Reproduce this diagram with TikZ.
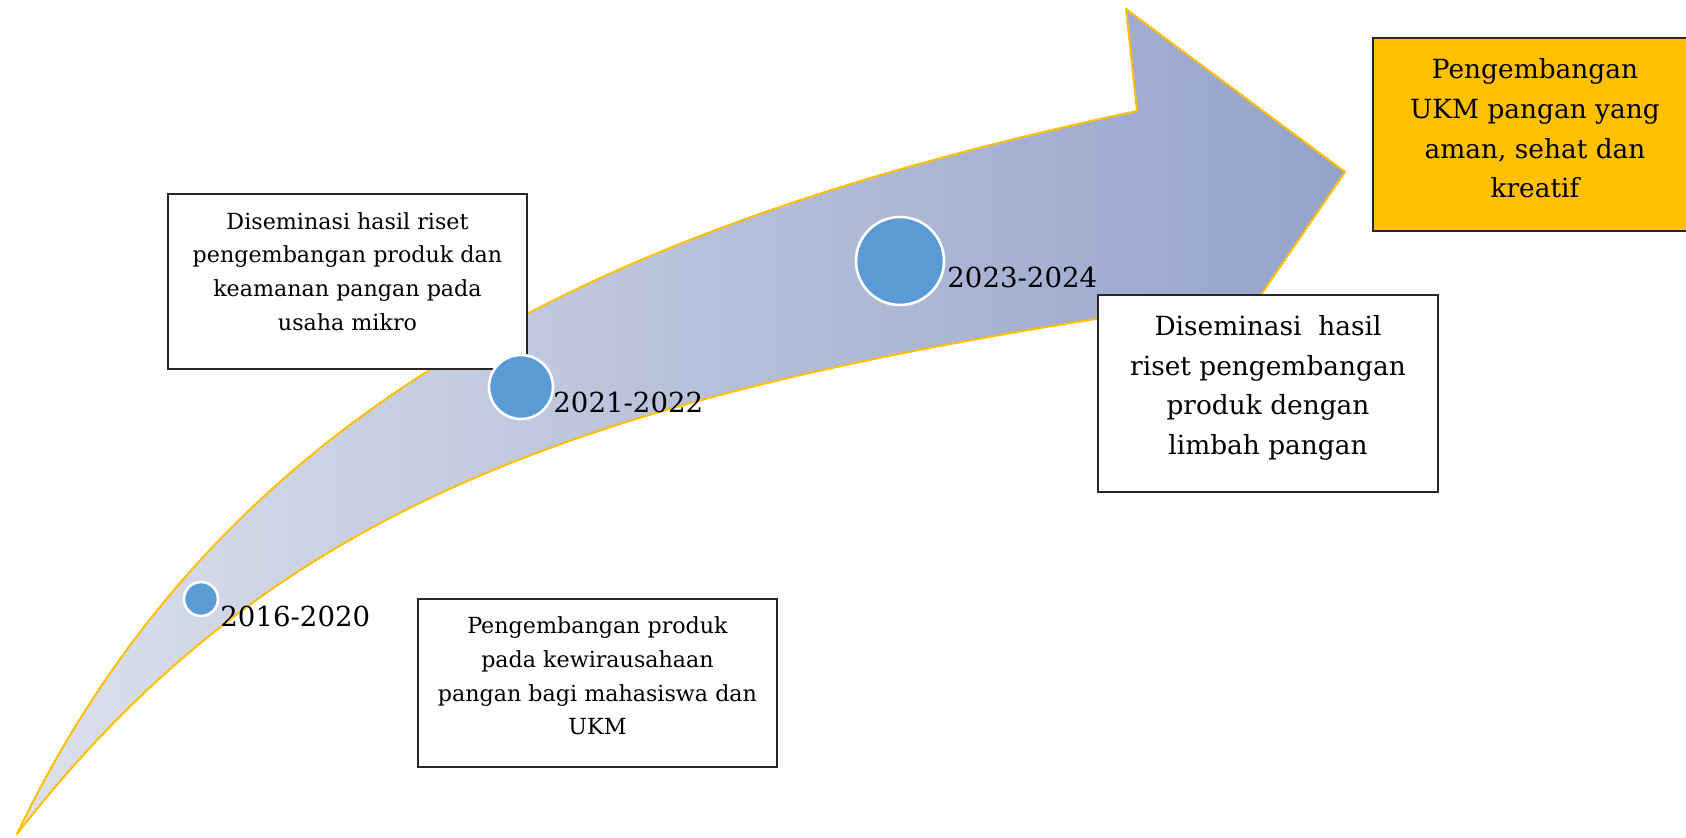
\documentclass[tikz,border=0pt]{standalone}
\usepackage{fontspec}
\setmainfont{DejaVu Serif}
\definecolor{arrowL}{HTML}{DCE0EB}
\definecolor{arrowR}{HTML}{95A3CB}
\definecolor{gold}{HTML}{FFC000}
\definecolor{dotblue}{HTML}{5B9BD5}
\definecolor{boxline}{HTML}{262626}
\begin{document}
\begin{tikzpicture}[x=0.5pt,y=-0.5pt,
  arrowbody/.style={left color=arrowL,right color=arrowR,draw=gold,line width=1pt,line join=round},
  dot/.style={circle,fill=dotblue,draw=white,line width=1.3pt,inner sep=0pt},
  year/.style={inner sep=0pt,anchor=base west,font=\fontsize{13.8pt}{16pt}\selectfont},
  wbox/.style={rectangle,draw=boxline,fill=white,line width=0.8pt,inner sep=0pt},
  obox/.style={rectangle,draw=boxline,fill=gold,line width=0.8pt,inner sep=0pt},
  smalltext/.style={inner sep=0pt,align=center,font=\fontsize{11.1pt}{16.8pt}\selectfont},
  bigtext/.style={inner sep=0pt,align=center,font=\fontsize{13.2pt}{19.8pt}\selectfont}]
\useasboundingbox (0,0) rectangle (1686,838);
% arrow
\coordinate (tail) at (17,834);
\coordinate (notch) at (1137,111);
\coordinate (htop) at (1126,9);
\coordinate (htip) at (1345,172);
\coordinate (hlow) at (1230,340);
\coordinate (lend) at (1160,309);
\path[arrowbody] (tail) .. controls (220,410) and (600,225) .. (notch) -- (htop) -- (htip) -- (hlow) -- (lend) .. controls (590,395) and (275,502) .. (tail) -- cycle;
% boxes
\node[wbox,minimum width=179.5pt,minimum height=87.5pt] (b1) at (347.5,281.5) {};
\node[smalltext] (t1) at (347.5,271.5) {Diseminasi hasil riset\\pengembangan produk dan\\keamanan pangan pada\\usaha mikro};
\node[wbox,minimum width=170pt,minimum height=98.5pt] (b2) at (1268,393.5) {};
\node[bigtext] (t2) at (1268,388) {Diseminasi~ hasil\\riset pengembangan\\produk dengan\\limbah pangan};
\node[wbox,minimum width=179.5pt,minimum height=84pt] (b3) at (597.5,683) {};
\node[smalltext] (t3) at (597.5,676) {Pengembangan produk\\pada kewirausahaan\\pangan bagi mahasiswa dan\\UKM};
\node[obox,minimum width=163.5pt,minimum height=96.5pt] (b4) at (1536.5,134.5) {};
\node[bigtext] (t4) at (1535,128.5) {Pengembangan\\UKM pangan yang\\aman, sehat dan\\kreatif};
% milestones
\node[dot,minimum size=17pt] (c1) at (201,599) {};
\node[dot,minimum size=32pt] (c2) at (521,387) {};
\node[dot,minimum size=44pt] (c3) at (900,261) {};
\node[year] (y1) at (220,627) {2016-2020};
\node[year] (y2) at (553,413) {2021-2022};
\node[year] (y3) at (947,288) {2023-2024};
\end{tikzpicture}
\end{document}
